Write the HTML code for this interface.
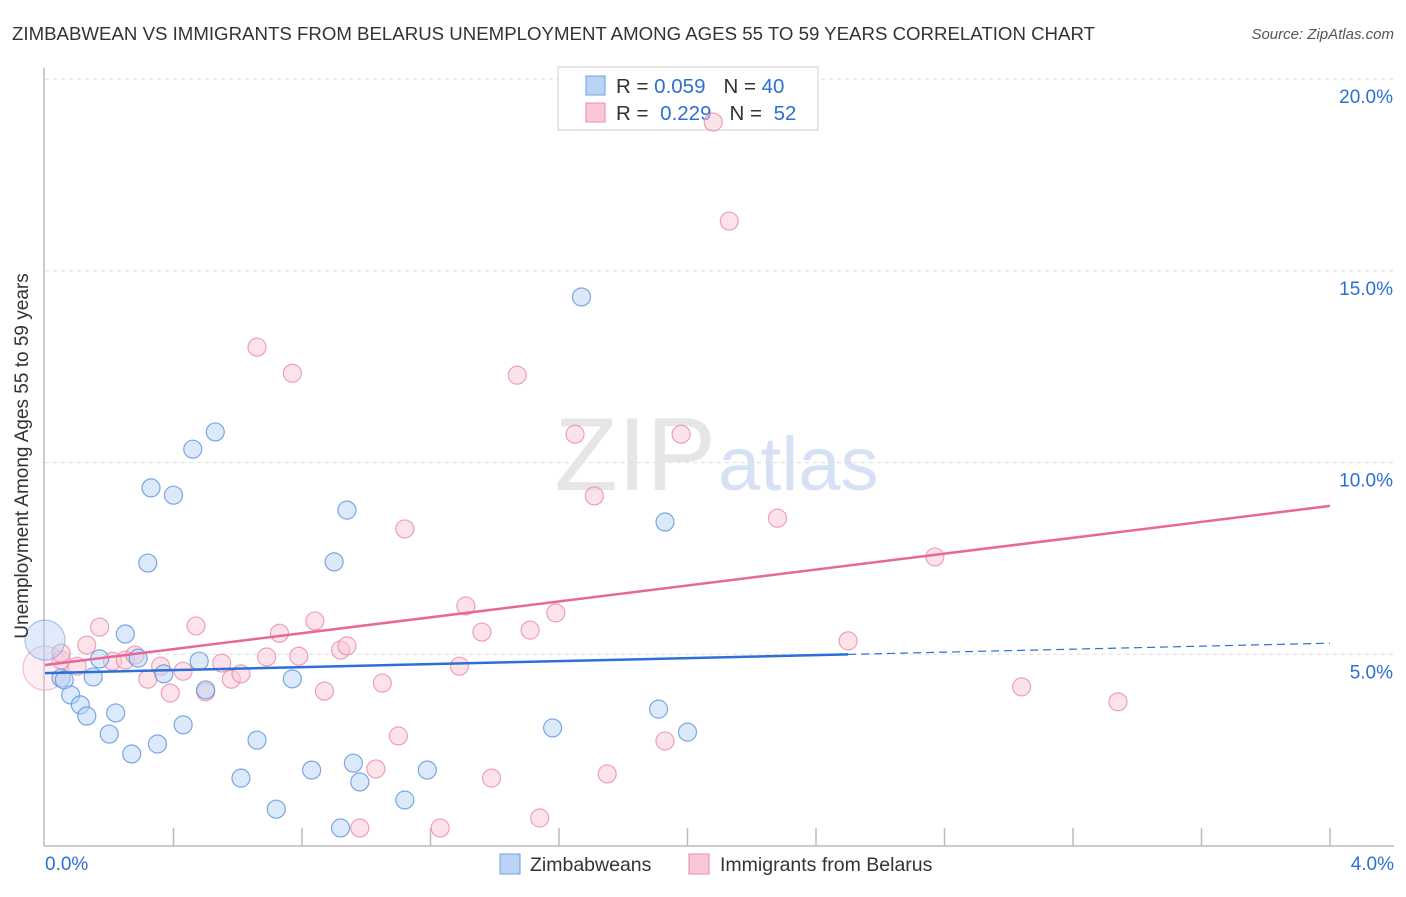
<!DOCTYPE html>
<html><head><meta charset="utf-8"><style>
body{margin:0;background:#fff;font-family:"Liberation Sans",sans-serif;}
svg text{font-family:"Liberation Sans",sans-serif;}
</style></head><body>
<svg width="1406" height="892" viewBox="0 0 1406 892">
<text x="12" y="40" font-size="18" fill="#333" textLength="1083" lengthAdjust="spacingAndGlyphs">ZIMBABWEAN VS IMMIGRANTS FROM BELARUS UNEMPLOYMENT AMONG AGES 55 TO 59 YEARS CORRELATION CHART</text>
<text x="1394" y="39" font-size="15" fill="#555" font-style="italic" text-anchor="end">Source: ZipAtlas.com</text>
<text x="716" y="490" font-size="104" fill="#e6e6e6" text-anchor="end" font-family="Liberation Serif">ZIP</text>
<text x="718" y="490" font-size="76" fill="#d6e2f3">atlas</text>
<g id="grid"></g><g id="axes"></g>
<g>
<rect x="558" y="67" width="260" height="63" fill="#fff" stroke="#ccc"/>
<rect x="586" y="76" width="19" height="19" fill="#b9d3f5" stroke="#6a9fe0"/>
<rect x="586" y="103" width="19" height="19" fill="#f9c7d6" stroke="#eb8aa9"/>
<text x="616" y="93" font-size="20.5" fill="#333">R = <tspan fill="#2c6fd6">0.059</tspan><tspan dx="18" fill="#333">N = </tspan><tspan fill="#2c6fd6">40</tspan></text>
<text x="616" y="120" font-size="20.5" fill="#333">R = <tspan fill="#2c6fd6" dx="6">0.229</tspan><tspan dx="18" fill="#333">N = </tspan><tspan fill="#2c6fd6" dx="6">52</tspan></text>
</g>
<g id="marks"></g>
<text x="28" y="456" font-size="19" fill="#333" text-anchor="middle" transform="rotate(-90 28 456)">Unemployment Among Ages 55 to 59 years</text>
<g>
<rect x="500" y="854" width="20" height="20" fill="#b9d3f5" stroke="#6a9fe0"/>
<text x="530" y="871" font-size="19.5" fill="#333">Zimbabweans</text>
<rect x="689" y="854" width="20" height="20" fill="#f9c7d6" stroke="#eb8aa9"/>
<text x="720" y="871" font-size="19.5" fill="#333">Immigrants from Belarus</text>
</g>
</svg>
<script>
const xTicks=["0.0%","4.0%"];
const yTicks=[5,10,15,20];
const blueX=[0.0,0.05,0.06,0.08,0.11,0.13,0.15,0.17,0.20,0.22,0.25,0.27,0.29,0.32,0.33,0.35,0.37,0.40,0.43,0.46,0.48,0.50,0.53,0.61,0.66,0.72,0.77,0.83,0.90,0.92,0.94,0.96,0.98,1.12,1.19,1.58,1.67,1.91,1.93,2.00];
const blueY=[5.37,4.38,4.33,3.94,3.68,3.39,4.41,4.88,2.92,3.47,5.53,2.40,4.90,7.38,9.34,2.66,4.49,9.15,3.16,10.35,4.82,4.07,10.80,1.77,2.76,0.96,4.36,1.98,7.41,0.47,8.76,2.16,1.67,1.20,1.98,3.08,14.32,3.57,8.45,2.97];
const pinkX=[0.0,0.05,0.05,0.10,0.13,0.17,0.21,0.25,0.28,0.32,0.36,0.39,0.43,0.47,0.50,0.55,0.58,0.61,0.66,0.69,0.73,0.77,0.79,0.84,0.87,0.92,0.94,0.98,1.03,1.05,1.10,1.12,1.23,1.29,1.31,1.36,1.39,1.47,1.51,1.54,1.59,1.65,1.71,1.75,1.93,1.98,2.08,2.13,2.28,2.50,2.77,3.04,3.34];
const pinkY=[4.64,4.85,5.03,4.69,5.24,5.71,4.82,4.85,4.98,4.35,4.69,3.99,4.56,5.74,4.02,4.77,4.35,4.49,13.01,4.93,5.55,12.33,4.95,5.87,4.04,5.11,5.22,0.47,2.01,4.25,2.87,8.27,0.47,4.69,6.26,5.58,1.77,12.28,5.63,0.73,6.08,10.74,9.13,1.88,2.74,10.74,18.88,16.30,8.55,5.35,7.54,4.15,3.76];
const blueTrend=[4.51,0.195];
const pinkTrend=[4.72,1.0375];
const NS="http://www.w3.org/2000/svg";
const X=v=>45+v/4*1285, Y=v=>846-v/5*191.7;
function mk(t,a,p){const e=document.createElementNS(NS,t);for(const k in a)e.setAttribute(k,a[k]);p.appendChild(e);return e;}
const grid=document.getElementById('grid'),axes=document.getElementById('axes'),marks=document.getElementById('marks');
yTicks.forEach(v=>{
 const l=mk('line',{x1:45,x2:1394,y1:Y(v),y2:Y(v),stroke:'#ddd','stroke-dasharray':'4 4'},grid);
 
 
 const t=mk('text',{x:1393,y:Y(v)+24,'font-size':19,fill:'#2c6fd6','text-anchor':'end'},axes);
 t.textContent=v.toFixed(1)+'%';
 
 
});
const ax=mk('line',{x1:44,x2:44,y1:68,y2:846,stroke:'#bbb','stroke-width':1.5},axes);


const bx=mk('line',{x1:44,x2:1394,y1:846,y2:846,stroke:'#bbb','stroke-width':1.5},axes);


for(let i=1;i<=10;i++){const v=i*0.4;const tk=mk('line',{x1:X(v),x2:X(v),y1:828,y2:846,stroke:'#bbb','stroke-width':1.5},axes);
 
 }
[[0,'start',45],[4,'end',1394]].forEach((d,i)=>{const t=mk('text',{x:d[2],y:870,'font-size':19,fill:'#2c6fd6','text-anchor':d[1]},axes);t.textContent=xTicks[i];
 
 });
function dots(xs,ys,fill,stroke,name,big,op){xs.forEach((x,i)=>{const r=(i===0)?big:9;
 const c=mk('circle',{cx:X(x),cy:Y(ys[i]),r:r,fill:fill,'fill-opacity':i===0?op:0.5,stroke:stroke,'stroke-width':1.2,'stroke-opacity':i===0?0.5:0.8},marks);
 
 });}
dots(pinkX,pinkY,'#f9c7d6','#eb8aa9','pink',22,0.3);
dots(blueX,blueY,'#b9d3f5','#5b93dc','blue',20,0.45);
const pl=mk('line',{x1:X(0),y1:Y(pinkTrend[0]),x2:X(4),y2:Y(pinkTrend[0]+pinkTrend[1]*4),stroke:'#e8679a','stroke-width':2.5},marks);


const bl=mk('line',{x1:X(0),y1:Y(blueTrend[0]),x2:X(2.5),y2:Y(blueTrend[0]+blueTrend[1]*2.5),stroke:'#2c6fd6','stroke-width':2.5},marks);


const bd=mk('line',{x1:X(2.5),y1:Y(blueTrend[0]+blueTrend[1]*2.5),x2:X(4),y2:Y(blueTrend[0]+blueTrend[1]*4),stroke:'#2c6fd6','stroke-width':1.2,'stroke-dasharray':'8 5'},marks);


</script>
</body></html>
